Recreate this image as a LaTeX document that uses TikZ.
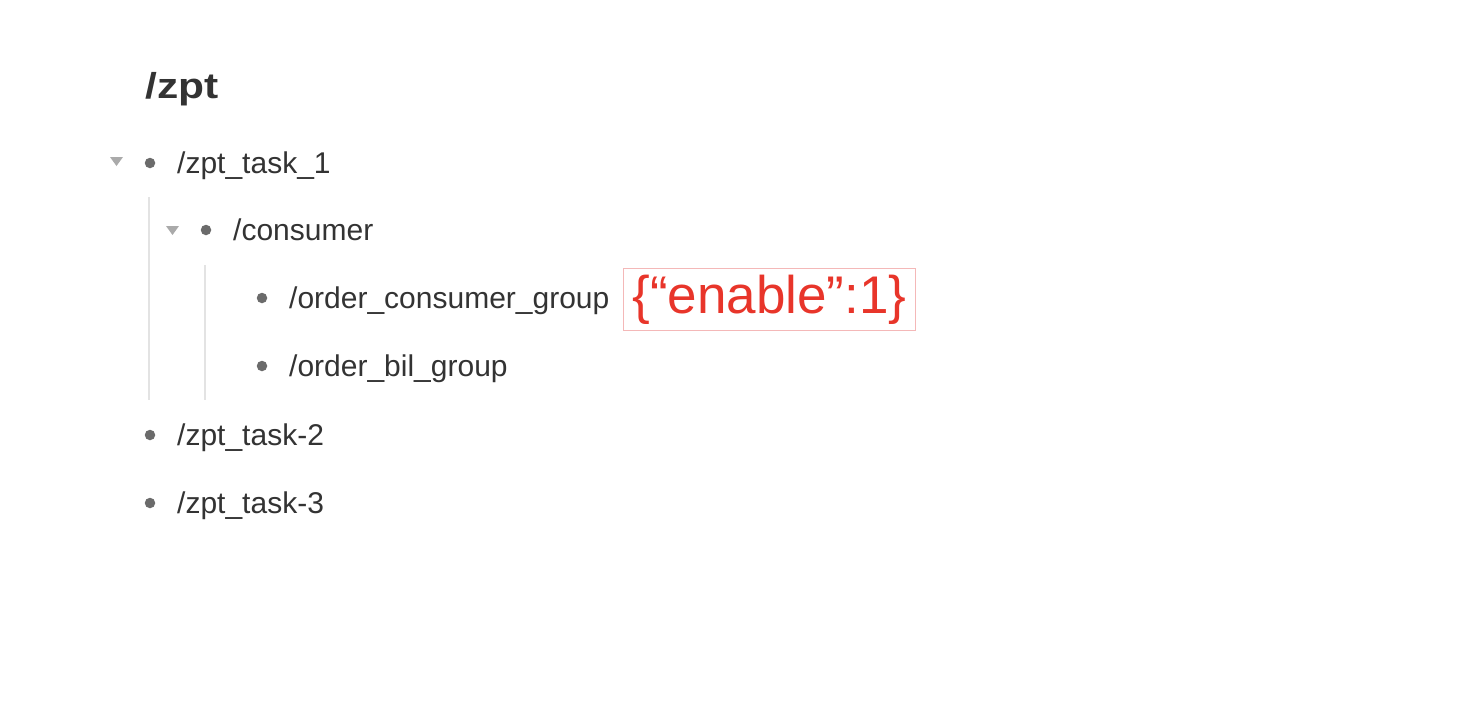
\documentclass[tikz,border=0pt]{standalone}
\usepackage{fontspec}
\setmainfont{Liberation Sans}
\definecolor{txt}{HTML}{333333}
\definecolor{dotc}{HTML}{6B6B6B}
\definecolor{tri}{HTML}{AAAAAA}
\definecolor{guide}{HTML}{E3E3E3}
\definecolor{redt}{HTML}{E8352A}
\definecolor{redbox}{HTML}{F4B8B8}
\begin{document}
\begin{tikzpicture}[x=1pt,y=-1pt,
  item/.style={anchor=base west,inner sep=0pt,text=txt,font=\fontsize{30}{34}\selectfont},
  bul/.style={circle,fill=dotc,inner sep=0pt,minimum size=10.5pt},
  tog/.style={fill=tri,draw=none},
  guideline/.style={draw=guide,line width=1.5pt}]
\useasboundingbox (0,0) rectangle (1472,704);
\node[anchor=base west,inner sep=0pt,text=txt,font=\fontsize{36}{40}\selectfont\bfseries] (root) at (145,98) {\scalebox{1.18}[1]{/zpt}};
% level 1
\node[bul] (b1) at (150,163) {};
\node[item] (t1) at (177,173) {/zpt\_task\_1};
\fill[tog] (110,157) -- (123,157) -- (116.5,166) -- cycle;
\node[bul] (b2) at (206,230) {};
\node[item] (t2) at (233,240) {/consumer};
\fill[tog] (166,226) -- (179,226) -- (172.5,235) -- cycle;
\node[bul] (b3) at (262,298) {};
\node[item] (t3) at (289,308) {/order\_consumer\_group};
\node[bul] (b4) at (262,366) {};
\node[item] (t4) at (289,376) {/order\_bil\_group};
\node[bul] (b5) at (150,435) {};
\node[item] (t5) at (177,445) {/zpt\_task-2};
\node[bul] (b6) at (150,503) {};
\node[item] (t6) at (177,513) {/zpt\_task-3};
% guides
\coordinate (g1a) at (149,197); \coordinate (g1b) at (149,400);
\coordinate (g2a) at (205,265); \coordinate (g2b) at (205,400);
\draw[guideline] (g1a) -- (g1b);
\draw[guideline] (g2a) -- (g2b);
% annotation
\node[draw=redbox,line width=1pt,text=redt,font=\fontsize{53}{57}\selectfont,
  minimum width=292pt,minimum height=62pt,inner sep=0pt,anchor=north west] (ann) at (623,268) {\{“enable”:1\}};
\end{tikzpicture}
\end{document}
